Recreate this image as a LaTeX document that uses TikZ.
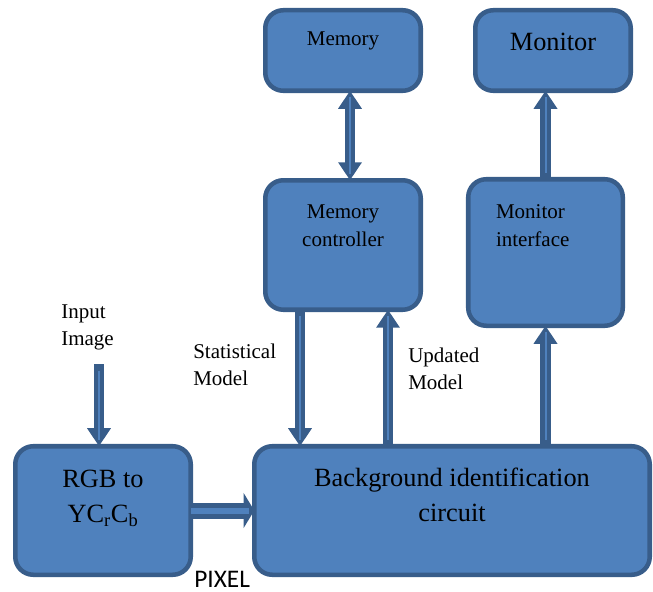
\documentclass[tikz,border=0pt]{standalone}
\usepackage{fontspec}
\setmainfont{Liberation Serif}
\newfontfamily\pixfont{Carlito}
\usepackage{tikz}
\usetikzlibrary{arrows.meta, calc}
\definecolor{boxfill}{RGB}{79,129,189}
\definecolor{boxline}{RGB}{56,93,138}
\newcommand\txtsmall{\fontsize{15.75pt}{20.25pt}\selectfont}
\newcommand\txtbig{\fontsize{19.75pt}{26pt}\selectfont}
\tikzset{
	block/.style={
		draw=boxline,
		fill=boxfill,
		line width=3.4pt,
		rounded corners=13.5pt,
		inner sep=0pt,
		outer sep=0pt
	},
	note/.style={
		align=left,
		anchor=north west,
		inner sep=0pt,
		font=\txtsmall
	}
}

\begin{document}
\begin{tikzpicture}[x=0.75pt, y=-0.75pt]
	\tikzset{edge/.style={draw=boxline, line width=8pt, >={Triangle[length=13.5pt,width=17pt]}, ->,
			postaction={draw=boxfill, line width=1.5pt, -, shorten >=5pt, shorten <=5pt}}}
	\tikzset{fatedge/.style={draw=boxline, line width=12pt, -{Triangle[length=8pt,width=26pt]},
			postaction={draw=boxfill, line width=4.5pt, -, shorten >=4pt}}}
	\useasboundingbox (0,0) rectangle (653,592);
	
	\node(mem) at (343,50.5) [block, minimum width=116.6pt, minimum height=60.4pt, font=\txtsmall, text height=0pt, text depth=6.75pt] {Memory};
	\node(mon) at (553,50.5) [block, minimum width=116.6pt, minimum height=60.4pt, font=\txtbig, text height=0.75pt, text depth=0pt] {Monitor};
	
	\node(memctl) at (343,245) [block, minimum width=116.6pt, minimum height=97.1pt, font=\txtsmall, align=center, text height=1.5pt, text depth=0pt] {Memory\\[0.75pt]controller};
	\node(monif) at (545.5,252.5) [block, minimum width=115.9pt, minimum height=109.9pt, font=\txtsmall, align=left, text width=74.25pt, text height=0pt, text depth=51.75pt] {Monitor\\[0.75pt]interface};
	
	\node(rgb) at (103,510.5) [block, minimum width=131.6pt, minimum height=96.4pt, font=\txtbig, align=center, text height=17.25pt, text depth=0pt] {RGB to\\YC\textsubscript{r}C\textsubscript{b}};
	\node(bg) at (452,510.5) [block, minimum width=296.6pt, minimum height=96.4pt, font=\txtbig, align=center, text height=15.75pt, text depth=0pt] {Background identification\\circuit};
	
	\node(inlbl) at (61,304) [note] {Input\\Image};
	\node(statlbl) at (193,344) [note] {Statistical\\Model};
	\node(updlbl) at (408,348) [note] {Updated\\Model};
	\node(pixlbl) at (194,587) [anchor=base west, inner sep=0pt, font=\pixfont\fontsize{19pt}{23pt}\selectfont] {PIXEL};
	
	\coordinate(inp) at (99,364);
	\coordinate(stat) at ($(memctl.south)+(-43,0)$);
	\coordinate(upd) at ($(memctl.south)+(45,0)$);
	
	\draw[edge,<->] ($(mem.south)+(7,0)$) -- ($(memctl.north)+(7,0)$);
	\draw[edge] (monif.north) -- (monif.north |- mon.south);
	
	\draw[edge] (stat) -- (stat |- bg.north);
	\draw[edge] (upd |- bg.north) -- (upd);
	\draw[edge] (monif.south |- bg.north) -- (monif.south);
	
	\draw[edge] (inp) -- (inp |- rgb.north);
	\draw[fatedge] (rgb.east) -- (bg.west);
	
\end{tikzpicture}
\end{document}
